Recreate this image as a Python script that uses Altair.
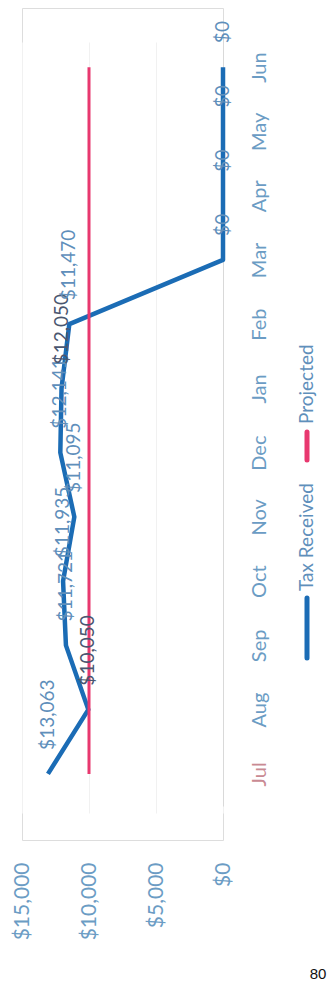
import altair as alt
import pandas as pd

months = ["Jul", "Aug", "Sep", "Oct", "Nov", "Dec", "Jan", "Feb", "Mar", "Apr", "May", "Jun"]
tax_received = [13063, 10050, 11721, 11935, 11095, 12141, 12050, 11470, 0, 0, 0, 0]
projected = [10000] * 12
value_ticks = [0, 5000, 10000, 15000]
series_names = ["Tax Received", "Projected"]
dark_label_months = ["Aug", "Jan"]
page_number = "80"

BLUE = "#1b6cb5"
PINK = "#e8386f"
LABEL = "#5f8fbb"
DARK_LABEL = "#4a5670"
FONT = "Lato"

df = pd.DataFrame({
    "month": months * 2,
    "idx": list(range(12)) * 2,
    "value": tax_received + projected,
    "series": [series_names[0]] * 12 + [series_names[1]] * 12,
})
df_tax = df[df["series"] == series_names[0]].copy()
df_tax["label"] = df_tax["value"].map(lambda v: "${:,.0f}".format(v))
df_tax["tone"] = df_tax["month"].map(lambda m: "dark" if m in dark_label_months else "light")

W, H = 201, 832

xscale = alt.Scale(domain=[0, 15000], reverse=True, nice=False, zero=True)
yscale = alt.Scale(domain=months, range=[798, 27])

xaxis = alt.Axis(orient="bottom", values=value_ticks, format="$,.0f", labelAngle=270,
                 labelAlign="right", labelBaseline="middle", labelPadding=22,
                 labelFontSize=21, labelColor="#6b9cc4", labelFont=FONT,
                 ticks=False, domain=False, grid=True, gridColor="#f1f1f1", title=None)
yaxis = alt.Axis(orient="right", labelAngle=270, labelAlign="center", labelBaseline="top",
                 labelPadding=26, labelFontSize=20, labelFont=FONT,
                 labelColor=alt.expr("datum.value == 'Jul' ? '#c98a93' : '#6b9cc4'"),
                 ticks=False, domain=True, domainColor="#d9d9d9", grid=False, title=None)

base = alt.Chart(df)

lines = base.mark_line(strokeJoin="round", strokeCap="butt").encode(
    x=alt.X("value:Q", scale=xscale, axis=xaxis),
    y=alt.Y("month:O", scale=yscale, sort=months, axis=yaxis),
    color=alt.Color("series:N", scale=alt.Scale(domain=series_names, range=[BLUE, PINK]), legend=None),
    strokeWidth=alt.StrokeWidth("series:N", scale=alt.Scale(domain=series_names, range=[4.5, 3]), legend=None),
    order="idx:Q",
    detail="series:N",
)

labels = alt.Chart(df_tax).mark_text(angle=270, align="left", baseline="middle", dx=24,
                                     fontSize=19, font=FONT).encode(
    x=alt.X("value:Q", scale=xscale),
    y=alt.Y("month:O", scale=yscale, sort=months),
    text="label:N",
    color=alt.condition(alt.datum.tone == "dark", alt.value(DARK_LABEL), alt.value(LABEL)),
)

one = pd.DataFrame({"a": [0]})
leg_tax_mark = alt.Chart(one).mark_rule(color=BLUE, strokeWidth=5, strokeCap="round").encode(
    x=alt.value(285), y=alt.value(590), y2=alt.value(650))
leg_tax_text = alt.Chart(one).mark_text(angle=270, align="left", baseline="middle",
                                        fontSize=19, font=FONT, color=LABEL).encode(
    x=alt.value(285), y=alt.value(583), text=alt.value(series_names[0]))
leg_proj_mark = alt.Chart(one).mark_rule(color=PINK, strokeWidth=5, strokeCap="round").encode(
    x=alt.value(285), y=alt.value(424), y2=alt.value(452))
leg_proj_text = alt.Chart(one).mark_text(angle=270, align="left", baseline="middle",
                                         fontSize=19, font=FONT, color=LABEL).encode(
    x=alt.value(285), y=alt.value(416), text=alt.value(series_names[1]))
page = alt.Chart(one).mark_text(align="center", baseline="middle", fontSize=15,
                                font="Liberation Sans", color="#111111").encode(
    x=alt.value(296), y=alt.value(966), text=alt.value(page_number))

chart = alt.layer(lines, labels, leg_tax_mark, leg_tax_text, leg_proj_mark, leg_proj_text, page).properties(
    width=W, height=H,
    autosize=alt.AutoSizeParams(type="none"),
    padding={"left": 14, "top": 0, "right": 105, "bottom": 146},
).configure_view(stroke=None).configure(background="white")

chart.save("out.html", embed_options={"renderer": "svg", "actions": False})
